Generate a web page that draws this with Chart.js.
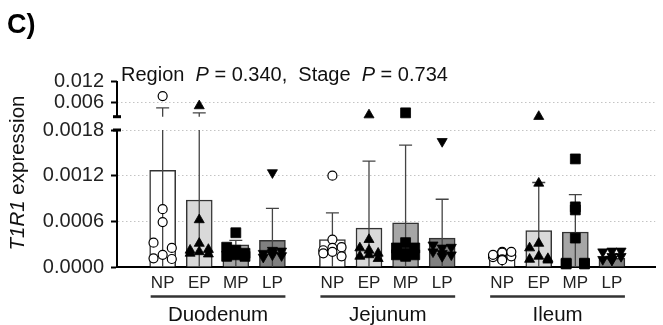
<!DOCTYPE html>
<html>
<head>
<meta charset="utf-8">
<script src="https://cdn.jsdelivr.net/npm/chart.js@4.4.0/dist/chart.umd.min.js"></script>
<style>
  html, body { margin: 0; padding: 0; background: #fff; }
  #wrap { width: 663px; height: 325px; }
</style>
</head>
<body>
<div id="wrap"><canvas id="t1r1Chart"></canvas></div>
<script>
// values
const regions = ["Duodenum", "Jejunum", "Ileum"];
const stages = ["NP", "EP", "MP", "LP"];
const lowerTicks = [0, 0.0006, 0.0012, 0.0018];
const upperTicks = [0.006, 0.012];

// bar heights (mean), stage order NP EP MP LP
const meanDuodenum = [0.00127, 0.00088, 0.00029, 0.00035];
const meanJejunum = [0.00036, 0.00051, 0.00058, 0.00038];
const meanIleum = [0.000136, 0.00048, 0.00046, 0.000114];

// top of the error bar (mean + SD)
const sdTopDuodenum = [0.0043, 0.0029, 0.00035, 0.00077];
const sdTopJejunum = [0.00071, 0.00139, 0.0016, 0.00089];
const sdTopIleum = [0.00016, 0.00111, 0.00095, 0.00014];

// single animals, one list per stage
const ptsDuodenum = [
  [0.0077, 0.00076, 0.00032, 0.00025, 0.00059, 0.000114, 0.000105, 0.00016],
  [0.0049, 0.00062, 0.00018, 0.00023, 0.00031, 0.00022, 0.00017, 0.0002],
  [0.00045, 0.00022, 0.00026, 0.00018, 0.00016, 0.00014, 0.00014, 0.00018],
  [0.00124, 0.00022, 0.00018, 0.00021, 0.00016, 0.00013, 0.00015, 0.00019]
];
const ptsJejunum = [
  [0.0012, 0.00036, 0.00022, 0.00026, 0.00025, 0.00018, 0.00014, 0.0002],
  [0.0023, 0.00036, 0.00014, 0.00018, 0.00022, 0.00025, 0.00011, 0.00016],
  [0.0029, 0.00032, 0.00025, 0.00025, 0.00018, 0.00016, 0.00016, 0.00014],
  [0.00165, 0.00018, 0.00029, 0.00026, 0.00025, 0.0002, 0.00016, 0.00014]
];
const ptsIleum = [
  [0.0002, 0.00019, 0.00013, 0.00014, 0.0001, 0.00016, 0.0002, 0.00009],
  [0.00185, 0.0011, 0.0001, 0.00011, 0.00031, 0.00025, 0.00009, 0.00014],
  [0.00142, 0.00038, 0.00005, 0.00005, 0.00079, 0.00004, 0.00004, 0.00075],
  [0.00021, 0.00014, 0.0002, 0.00014, 0.0001, 0.0001, 0.00021, 0.00009]
];

// layout
const FONT = "'Liberation Sans', Arial, sans-serif";
const BREAK = 0.0018;
const GROUP_STEP = 4.64;
const JITTER = [0, 0, -0.25, 0.25, 0, -0.25, 0.25, 0];
const stageFill = ["#ffffff", "#d9d9d9", "#a6a6a6", "#808080"];
const markers = [
  { style: "circle", r: 4.5, bg: "#ffffff", rot: 0 },
  { style: "triangle", r: 5.8, bg: "#000000", rot: 0 },
  { style: "rect", r: 7, bg: "#000000", rot: 0 },
  { style: "triangle", r: 5.8, bg: "#000000", rot: 180 }
];
const xPos = (g, s) => g * GROUP_STEP + s;

const means = [meanDuodenum, meanJejunum, meanIleum];
const sdTops = [sdTopDuodenum, sdTopJejunum, sdTopIleum];
const points = [ptsDuodenum, ptsJejunum, ptsIleum];

const barData = [];
const barColors = [];
regions.forEach((r, g) => stages.forEach((st, s) => {
  barData.push({ x: xPos(g, s), y: means[g][s], top: sdTops[g][s] });
  barColors.push(stageFill[s]);
}));

const datasets = [{
  type: "bar",
  data: barData,
  backgroundColor: barColors,
  borderColor: "#333",
  borderWidth: 1.5,
  barThickness: 26,
  grouped: false,
  yAxisID: "y",
  order: 3
}];

stages.forEach((st, s) => {
  ["y", "yTop"].forEach(axis => {
    const data = [];
    regions.forEach((r, g) => points[g][s].forEach((v, i) => {
      if ((v > BREAK) === (axis === "yTop")) data.push({ x: xPos(g, s) + JITTER[i], y: v });
    }));
    const m = markers[s];
    datasets.push({
      type: "scatter",
      data,
      yAxisID: axis,
      pointStyle: m.style,
      pointRadius: m.r,
      pointRotation: m.rot,
      pointBackgroundColor: m.bg,
      pointBorderColor: "#000",
      pointBorderWidth: s === 0 ? 1.2 : 0.8,
      clip: false,
      order: 0
    });
  });
});

function drawRuns(ctx, runs, x, y, size) {
  runs.forEach(run => {
    ctx.font = (run.italic ? "italic " : "") + size + "px " + FONT;
    ctx.fillText(run.t, x, y);
    x += ctx.measureText(run.t).width;
  });
}

const decorations = {
  id: "decorations",
  afterDatasetDraw(chart, args) {
    if (args.index !== 0) return;
    const { ctx } = chart;
    const x = chart.scales.x, lo = chart.scales.y, hi = chart.scales.yTop;
    ctx.save();
    ctx.strokeStyle = "#444";
    ctx.lineWidth = 1.3;
    chart.data.datasets[0].data.forEach(d => {
      const px = x.getPixelForValue(d.x);
      const capY = d.top > BREAK ? hi.getPixelForValue(d.top) : lo.getPixelForValue(d.top);
      ctx.beginPath();
      ctx.moveTo(px, lo.getPixelForValue(0));
      ctx.lineTo(px, lo.getPixelForValue(Math.min(d.top, BREAK)));
      if (d.top > BREAK) {
        ctx.moveTo(px, hi.getPixelForValue(BREAK));
        ctx.lineTo(px, capY);
      }
      ctx.moveTo(px - 6.5, capY);
      ctx.lineTo(px + 6.5, capY);
      ctx.stroke();
    });
    ctx.restore();
  },
  afterDraw(chart) {
    const { ctx, chartArea } = chart;
    const x = chart.scales.x, lo = chart.scales.y, hi = chart.scales.yTop;
    const left = chartArea.left;
    ctx.save();

    // upper axis segment + break marks
    ctx.strokeStyle = "#000";
    ctx.lineWidth = 2;
    ctx.beginPath();
    ctx.moveTo(left, hi.getPixelForValue(BREAK));
    ctx.lineTo(left, hi.getPixelForValue(0.012));
    ctx.stroke();
    ctx.fillStyle = "#000";
    ctx.fillRect(left - 4, hi.getPixelForValue(BREAK) - 1.5, 8, 3);
    ctx.fillRect(left - 4, lo.getPixelForValue(BREAK) - 1.5, 8, 3);

    // panel letter
    ctx.fillStyle = "#000";
    ctx.textBaseline = "alphabetic";
    ctx.textAlign = "left";
    ctx.font = "bold 27px " + FONT;
    ctx.fillText("C)", 7, 33);

    // statistics line
    ctx.fillStyle = "#111";
    drawRuns(ctx, [
      { t: "Region  " }, { t: "P", italic: true }, { t: " = 0.340,  Stage  " },
      { t: "P", italic: true }, { t: " = 0.734" }
    ], 121, 81, 20);

    // y title
    ctx.save();
    ctx.translate(24, 173);
    ctx.rotate(-Math.PI / 2);
    const runs = [{ t: "T1R1", italic: true }, { t: " expression" }];
    let w = 0;
    runs.forEach(run => {
      ctx.font = (run.italic ? "italic " : "") + "20.5px " + FONT;
      w += ctx.measureText(run.t).width;
    });
    drawRuns(ctx, runs, -w / 2, 0, 20.5);
    ctx.restore();

    // region brackets and names
    ctx.strokeStyle = "#333";
    ctx.lineWidth = 2.5;
    ctx.font = "20.5px " + FONT;
    ctx.textAlign = "center";
    ctx.textBaseline = "middle";
    regions.forEach((r, g) => {
      const x0 = x.getPixelForValue(xPos(g, 0)) - 12;
      const x1 = x.getPixelForValue(xPos(g, 3)) + 13;
      ctx.beginPath();
      ctx.moveTo(x0, 296.5);
      ctx.lineTo(x1, 296.5);
      ctx.stroke();
      ctx.fillText(r, (x0 + x1) / 2, 315);
    });
    ctx.restore();
  }
};

const fixedWidth = axis => { axis.width = 117; };

new Chart(document.getElementById("t1r1Chart"), {
  type: "bar",
  data: { datasets },
  plugins: [decorations],
  options: {
    responsive: true,
    maintainAspectRatio: false,
    animation: false,
    layout: { padding: { top: 81, left: 0, right: 0, bottom: 0 } },
    plugins: { legend: { display: false }, tooltip: { enabled: false } },
    scales: {
      x: {
        type: "linear",
        min: -0.635,
        max: 12.85,
        grid: { display: false, drawTicks: false },
        border: { color: "#000", width: 2 },
        afterBuildTicks: axis => {
          axis.ticks = [];
          regions.forEach((r, g) => stages.forEach((st, s) => axis.ticks.push({ value: xPos(g, s) })));
        },
        ticks: {
          autoSkip: false,
          maxRotation: 0,
          padding: 6,
          color: "#222",
          font: { family: FONT, size: 17 },
          callback: (v, i) => stages[i % 4]
        },
        afterFit: axis => { axis.height = 58; }
      },
      y: {
        type: "linear",
        position: "left",
        stack: "v",
        stackWeight: 137,
        min: 0,
        max: BREAK,
        afterBuildTicks: axis => { axis.ticks = lowerTicks.map(v => ({ value: v })); },
        ticks: {
          padding: 7,
          color: "#222",
          font: { family: FONT, size: 20 },
          callback: v => v.toFixed(4)
        },
        grid: {
          color: c => (c.tick && c.tick.value === 0 ? "rgba(0,0,0,0)" : "#c4c4c4"),
          lineWidth: 1,
          tickColor: "#000",
          tickLength: 6,
          tickWidth: 2
        },
        border: { color: "#000", width: 2, dash: [1.5, 2.5] },
        afterFit: fixedWidth
      },
      yTop: {
        type: "linear",
        position: "left",
        stack: "v",
        stackWeight: 49,
        min: -0.002,
        max: 0.012,
        afterBuildTicks: axis => { axis.ticks = upperTicks.map(v => ({ value: v })); },
        ticks: {
          padding: 7,
          color: "#222",
          font: { family: FONT, size: 20 },
          callback: v => v.toFixed(3)
        },
        grid: {
          color: c => (c.tick && c.tick.value === 0.012 ? "rgba(0,0,0,0)" : "#c4c4c4"),
          lineWidth: 1,
          tickColor: "#000",
          tickLength: 6,
          tickWidth: 2
        },
        border: { display: false, dash: [1.5, 2.5] },
        afterFit: fixedWidth
      }
    }
  }
});
</script>
</body>
</html>
